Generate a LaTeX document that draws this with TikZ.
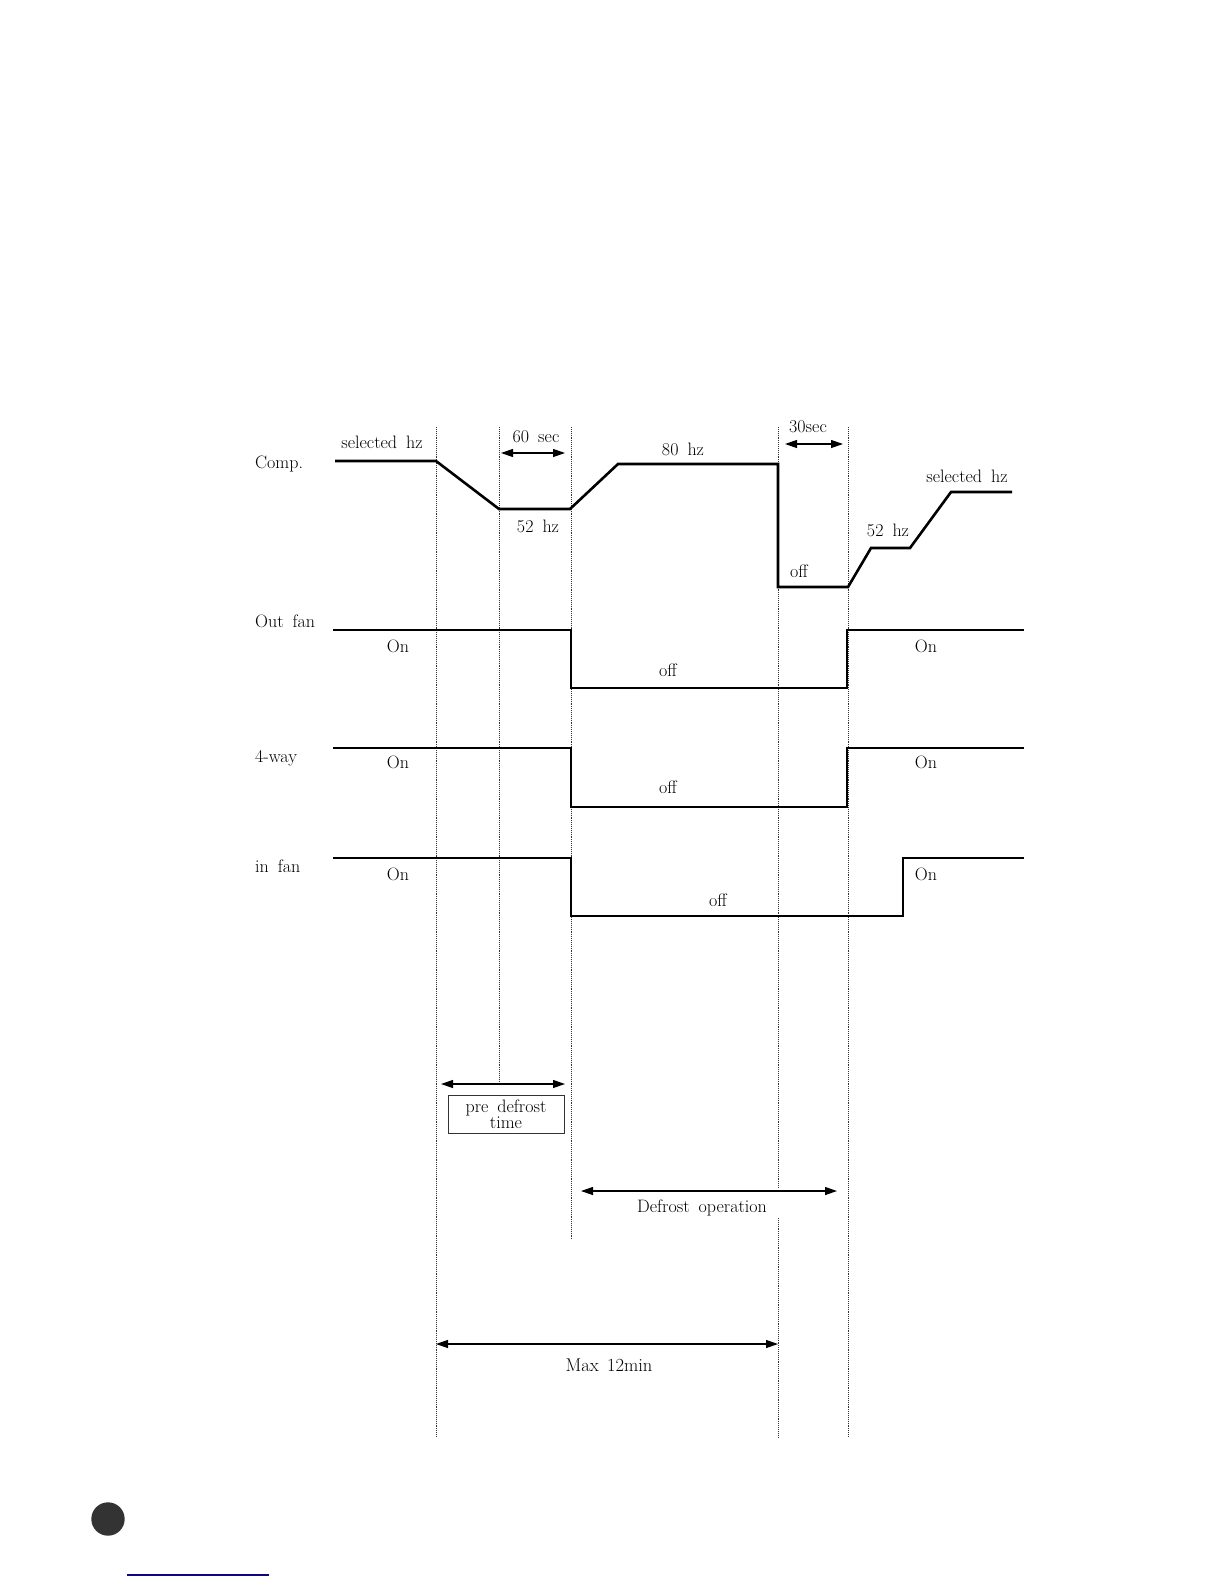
\documentclass[tikz,border=0pt]{standalone}
\usepackage{fontspec}
\usepackage{xcolor}
\usepackage{tikz}
\usetikzlibrary{arrows.meta,positioning}
\definecolor{ink}{HTML}{000000}
\definecolor{guideink}{HTML}{333333}
\definecolor{dotink}{HTML}{333333}
\definecolor{rule}{HTML}{0A0A80}
\newcommand\sigfont{\fontsize{18}{21}\selectfont\spaceskip=0.5em plus 0.1em\relax}
\newcommand\boxfont{\fontsize{18}{15.5}\selectfont\spaceskip=0.5em plus 0.1em\relax}
\newcommand\maxfont{\fontsize{18.5}{21}\selectfont\spaceskip=0.45em plus 0.1em\relax}

\begin{document}
\begin{tikzpicture}[x=1pt,y=-1pt,font=\sigfont,
 wave/.style={line width=2.6pt,ink,line join=miter},
 guide/.style={densely dotted,line width=0.9pt,guideink},
 span/.style={{Triangle[length=12pt,width=8pt]}-{Triangle[length=12pt,width=8pt]},line width=1.2pt,ink},
 lbl/.style={inner sep=0pt,text=ink,anchor=base}]
\useasboundingbox (0,0) rectangle (1224,1584);
\foreach \g/\xx/\yb in {a/436/1437,b/499/1083,c/571/1240,e/848/1437} {
 \coordinate (\g-top) at (\xx,427);
 \coordinate (\g-bot) at (\xx,\yb);
 \draw[guide] (\g-top) -- (\g-bot);}
\coordinate (d-top) at (778,427); \coordinate (d-gap) at (778,1188);
\coordinate (d-low) at (778,1218); \coordinate (d-bot) at (778,1437);
\draw[guide] (d-top) -- (d-gap) (d-low) -- (d-bot);
\draw[wave] (335,461) -- (436,461) -- (499,509) -- (570,509) -- (618,464) -- (778,464) -- (778,587)
 -- (848,587) -- (871,548) -- (910,548) -- (951,492) -- (1012,492);
\node[lbl,anchor=base west] (comp-name) at (255,468) {Comp.};
\node[lbl] (sel-left) at (382,448) {selected hz};
\node[lbl] (sec60) at (536,442) {60 sec};
\node[lbl] (hz52-left) at (538,532) {52 hz};
\node[lbl] (hz80) at (683,455) {80 hz};
\node[lbl] (sec30) at (808,432) {30sec};
\node[lbl] (sel-right) at (967,482) {selected hz};
\node[lbl] (hz52-right) at (888,536) {52 hz};
\node[lbl] (comp-off) at (799,577) {off};
\foreach \r/\lab/\yh/\yl/\xr/\ly/\offx/\onb/\offb in {out/Out fan/630/688/847/627/668/652/676,way/4-way/748/807/847/762/668/768/793,in/in fan/858/916/903/872/718/880/906} {
 \draw[wave] (333,\yh) -- (571,\yh) -- (571,\yl) -- (\xr,\yl) -- (\xr,\yh) -- (1024,\yh);
 \node[lbl,anchor=base west] (\r-name) at (255,\ly) {\lab};
 \node[lbl] (\r-on-left) at (398,\onb) {On};
 \node[lbl] (\r-off) at (\offx,\offb) {off};
 \node[lbl] (\r-on-right) at (926,\onb) {On};}
\coordinate (s60-a) at (501,453); \coordinate (s60-b) at (565,453);
\coordinate (s30-a) at (785,444); \coordinate (s30-b) at (843,444);
\coordinate (pre-a) at (441,1084); \coordinate (pre-b) at (565,1084);
\coordinate (def-a) at (581,1191); \coordinate (def-b) at (837,1191);
\coordinate (max-a) at (436,1344); \coordinate (max-b) at (778,1344);
\foreach \s in {s60,s30,pre,def,max} \draw[span] (\s-a) -- (\s-b);
\node[draw=guideink,line width=0.8pt,minimum width=116pt,minimum height=38pt,inner sep=0pt,align=center,
 font=\boxfont] (pre-box) at (506,1114) {pre defrost\\time};
\node[lbl] (def-label) at (702,1212) {Defrost operation};
\node[lbl,font=\maxfont] (max-label) at (609,1371) {Max 12min};
\fill[dotink] (108,1519) circle (16.7);
\coordinate (rule-a) at (127,1575); \coordinate (rule-b) at (269,1575);
\draw[rule,line width=1.3pt] (rule-a) -- (rule-b);
\end{tikzpicture}
\end{document}
